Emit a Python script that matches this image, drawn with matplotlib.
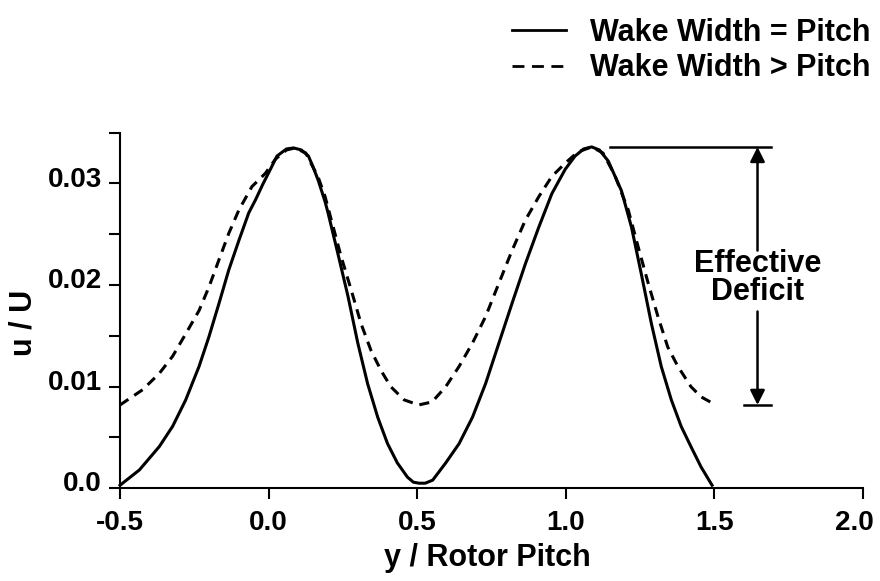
import matplotlib
matplotlib.use("Agg")
import matplotlib.pyplot as plt
import matplotlib.transforms as mtransforms
from matplotlib.lines import Line2D
import numpy as np

# values
y_solid = [-0.5, -0.435, -0.368, -0.323, -0.279, -0.234, -0.201, -0.167, -0.134, -0.100,
           -0.067, -0.044, -0.020, 0.006, 0.028, 0.060, 0.084, 0.110, 0.134, 0.150,
           0.167, 0.190, 0.200, 0.233, 0.267, 0.300, 0.333, 0.367, 0.400, 0.433,
           0.467, 0.487, 0.506, 0.527, 0.552, 0.596, 0.641, 0.686, 0.730, 0.775,
           0.819, 0.864, 0.909, 0.953, 0.998, 1.031, 1.060, 1.087, 1.113, 1.143,
           1.187, 1.221, 1.254, 1.288, 1.321, 1.355, 1.388, 1.421, 1.455, 1.492]
u_solid = [0.0003, 0.0018, 0.0041, 0.0061, 0.0087, 0.0120, 0.0149, 0.0182, 0.0215, 0.0244,
           0.0271, 0.0284, 0.0299, 0.0314, 0.0327, 0.0334, 0.0335, 0.0333, 0.0327, 0.0316,
           0.0303, 0.0282, 0.0271, 0.0231, 0.0189, 0.0143, 0.0103, 0.0070, 0.0044, 0.0025,
           0.0011, 0.0006, 0.0005, 0.0005, 0.0008, 0.0025, 0.0044, 0.0070, 0.0103, 0.0143,
           0.0182, 0.0221, 0.0257, 0.0290, 0.0314, 0.0327, 0.0334, 0.0336, 0.0333, 0.0322,
           0.0293, 0.0257, 0.0211, 0.0162, 0.0120, 0.0087, 0.0061, 0.0041, 0.0021, 0.0003]

y_dashed = [-0.5, -0.424, -0.368, -0.323, -0.279, -0.234, -0.201, -0.167, -0.134, -0.100,
            -0.056, -0.011, 0.023, 0.060, 0.089, 0.125, 0.167, 0.190, 0.211, 0.244,
            0.278, 0.311, 0.344, 0.378, 0.411, 0.456, 0.505, 0.550, 0.596, 0.641,
            0.686, 0.730, 0.775, 0.819, 0.864, 0.909, 0.953, 0.998, 1.040, 1.087,
            1.125, 1.165, 1.190, 1.210, 1.243, 1.277, 1.310, 1.343, 1.377, 1.421,
            1.455, 1.492]
u_dashed = [0.0082, 0.0097, 0.0113, 0.0130, 0.0152, 0.0175, 0.0198, 0.0225, 0.0251, 0.0274,
            0.0297, 0.0310, 0.0324, 0.0333, 0.0335, 0.0330, 0.0306, 0.0287, 0.0264, 0.0228,
            0.0195, 0.0162, 0.0136, 0.0116, 0.0100, 0.0087, 0.0082, 0.0085, 0.0100, 0.0120,
            0.0143, 0.0169, 0.0202, 0.0234, 0.0264, 0.0287, 0.0307, 0.0320, 0.0331, 0.0336,
            0.0330, 0.0308, 0.0289, 0.0274, 0.0238, 0.0202, 0.0169, 0.0139, 0.0120, 0.0100,
            0.0090, 0.0084]

xticks = [-0.5, 0.0, 0.5, 1.0, 1.5, 2.0]
xtick_labels = ["-0.5", "0.0", "0.5", "1.0", "1.5", "2.0"]
yticks = [0.0, 0.01, 0.02, 0.03]
ytick_labels = ["0.0", "0.01", "0.02", "0.03"]
yminor = [0.005, 0.015, 0.025, 0.035]
legend_labels = ["Wake Width = Pitch", "Wake Width > Pitch"]

plt.rcParams['font.family'] = ['Liberation Sans', 'DejaVu Sans']
plt.rcParams['font.weight'] = 'bold'
plt.rcParams['axes.labelweight'] = 'bold'
plt.rcParams['font.size'] = 22

fig = plt.figure(figsize=(8.8, 5.81), dpi=100)
ax = fig.add_axes([0.1364, 0.1596, 0.8443, 0.612])

ax.plot(y_solid, u_solid, color='black', lw=2.2, clip_on=False)
ax.plot(y_dashed, u_dashed, color='black', lw=2.2, ls=(0, (3.3, 2.3)), clip_on=False)

ax.set_xlim(-0.5, 2.0)
ax.set_ylim(0.0, 0.035)
for s in ['top', 'right']:
    ax.spines[s].set_visible(False)
for s in ['left', 'bottom']:
    ax.spines[s].set_linewidth(1.5)

ax.set_xticks(xticks)
ax.set_xticklabels(xtick_labels)
ax.set_yticks(yticks)
ax.set_yticklabels(ytick_labels)
ax.set_yticks(yminor, minor=True)
ax.tick_params(axis='both', which='both', direction='out', length=8, width=1.5, labelsize=20)
ax.tick_params(axis='x', pad=8)
ax.tick_params(axis='y', pad=5)

# y labels sit a little above their ticks in the original
off = mtransforms.ScaledTranslation(0, 5 / 72, fig.dpi_scale_trans)
for lab in ax.get_yticklabels():
    lab.set_transform(lab.get_transform() + off)
# last x label is pulled in a bit so it fits
last = ax.get_xticklabels()[-1]
last.set_transform(last.get_transform() + mtransforms.ScaledTranslation(-6 / 72, 0, fig.dpi_scale_trans))

ax.set_xlabel("y / Rotor Pitch")
ax.set_ylabel("u / U")
ax.xaxis.set_label_coords(0.494, -0.155)
ax.yaxis.set_label_coords(-0.110, 0.465)

# effective deficit marker
top = max(u_solid)
bot = min(u_dashed)
ax.plot([1.147, 1.689], [top, top], color='black', lw=1.8, clip_on=False)
ax.plot([1.599, 1.689], [bot, bot], color='black', lw=1.8, clip_on=False)
arr = dict(arrowstyle='-|>', color='black', lw=1.8, mutation_scale=22, shrinkA=0, shrinkB=0)
ax.annotate("", xy=(1.645, top), xytext=(1.645, 0.0234), arrowprops=arr)
ax.annotate("", xy=(1.645, bot), xytext=(1.645, 0.0174), arrowprops=arr)
ax.text(1.645, 0.0207, "Effective\nDeficit", ha='center', va='center', linespacing=0.95)

handles = [Line2D([], [], color='black', lw=2.0),
           Line2D([], [], color='black', lw=2.0, ls=(0, (4.3, 2.7)))]
fig.legend(handles, legend_labels, loc='upper right', bbox_to_anchor=(0.993, 0.974),
           frameon=False, handlelength=1.75, handletextpad=0.8, labelspacing=0.17,
           borderpad=0.1, borderaxespad=0.0)

fig.savefig("out.png", dpi=100)
